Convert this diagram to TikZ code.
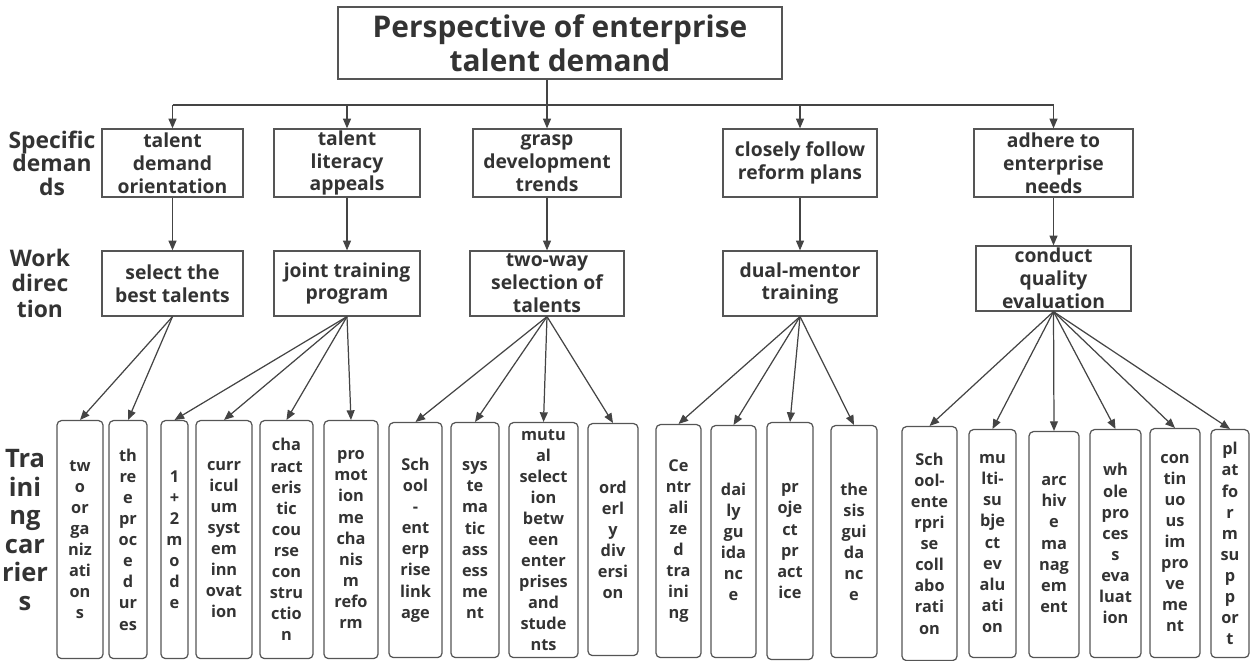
\documentclass[tikz,border=0pt]{standalone}
\usepackage{fontspec}
\setmainfont{Open Sans}
\usetikzlibrary{arrows.meta}

\definecolor{ink}{HTML}{333333}
\definecolor{linegray}{HTML}{444444}
\definecolor{boxgray}{HTML}{555555}

\tikzset{
  box/.style={draw=boxgray,line width=0.7pt,text=ink,align=center,inner sep=0pt,
              font=\bfseries\fontsize{11}{13}\selectfont},
  carrier/.style={box,rounded corners=2.5pt,anchor=north,
                  font=\bfseries\fontsize{9.3}{12}\selectfont},
  rowlabel/.style={text=ink,align=center,inner sep=0pt},
  arr/.style={draw=linegray,line width=0.7pt,-{Triangle[length=5.5pt,width=4.5pt]}}
}

\begin{document}
\begin{tikzpicture}[x=0.02cm,y=-0.02cm,every edge/.style=arr]
    \useasboundingbox (0,0) rectangle (1250,661);

    % top
    \node[box,minimum width=8.88cm,minimum height=1.44cm,
          font=\bfseries\fontsize{17}{19.5}\selectfont] (title) at (560,43)
          {Perspective of enterprise\\talent demand};

    % row labels
    \node[rowlabel,font=\bfseries\fontsize{13}{13.4}\selectfont] (labdemand) at (52,163) {Specific\\deman\\ds};
    \node[rowlabel,font=\bfseries\fontsize{13}{14.5}\selectfont] (labwork) at (40,283) {Work\\direc\\tion};
    \node[rowlabel,font=\bfseries\fontsize{14.5}{16.3}\selectfont] (labcarrier) at (25,530) {Tra\\ini\\ng\\car\\rier\\s};

    % specific demands
    \node[box,minimum width=2.82cm,minimum height=1.36cm] (sd1) at (172.5,163) {talent\\demand\\orientation};
    \node[box,minimum width=2.92cm,minimum height=1.36cm] (sd2) at (347,163) {talent\\literacy\\appeals};
    \node[box,minimum width=2.96cm,minimum height=1.36cm] (sd3) at (547,163) {grasp\\development\\trends};
    \node[box,minimum width=3.08cm,minimum height=1.36cm] (sd4) at (800,163) {closely follow\\reform plans};
    \node[box,minimum width=3.18cm,minimum height=1.36cm] (sd5) at (1053.5,163) {adhere to\\enterprise\\needs};

    % work direction
    \node[box,minimum width=2.82cm,minimum height=1.3cm] (wd1) at (172.5,283.5) {select the\\best talents};
    \node[box,minimum width=2.92cm,minimum height=1.3cm] (wd2) at (347,283.5) {joint training\\program};
    \node[box,minimum width=3.08cm,minimum height=1.3cm] (wd3) at (547,283.5) {two-way\\selection of\\talents};
    \node[box,minimum width=3.08cm,minimum height=1.3cm] (wd4) at (800,283.5) {dual-mentor\\training};
    \node[box,minimum width=3.1cm,minimum height=1.3cm] (wd5) at (1053.5,278.5) {conduct\\quality\\evaluation};

    % training carriers
    \node[carrier,minimum width=0.92cm,minimum height=4.76cm] (c1) at (80,420) {tw\\o\\or\\ga\\niz\\ati\\on\\s};
    \node[carrier,minimum width=0.76cm,minimum height=4.76cm] (c2) at (128,420) {th\\re\\e\\pr\\oc\\e\\d\\ur\\es};
    \node[carrier,minimum width=0.54cm,minimum height=4.76cm] (c3) at (174.5,420) {1\\+\\2\\m\\o\\d\\e};
    \node[carrier,minimum width=1.12cm,minimum height=4.76cm] (c4) at (224,420) {curr\\icul\\um\\syst\\em\\inn\\ovat\\ion};
    \node[carrier,minimum width=1.06cm,minimum height=4.76cm] (c5) at (286.5,420) {cha\\ract\\eris\\tic\\cou\\rse\\con\\stru\\ctio\\n};
    \node[carrier,minimum width=1.08cm,minimum height=4.76cm] (c6) at (351,420) {pro\\mot\\ion\\me\\cha\\nis\\m\\refo\\rm};
    \node[carrier,minimum width=1.06cm,minimum height=4.7cm] (c7) at (415.5,422) {Sch\\ool\\-\\ent\\erp\\rise\\link\\age};
    \node[carrier,minimum width=0.96cm,minimum height=4.7cm] (c8) at (475,422) {sys\\te\\ma\\tic\\ass\\ess\\me\\nt};
    \node[carrier,minimum width=1.38cm,minimum height=4.7cm] (c9) at (543.5,422) {mutu\\al\\select\\ion\\betw\\een\\enter\\prises\\and\\stude\\nts};
    \node[carrier,minimum width=1.0cm,minimum height=4.64cm] (c10) at (613,423) {ord\\erl\\y\\div\\ersi\\on};
    \node[carrier,minimum width=0.9cm,minimum height=4.66cm] (c11) at (678.5,424) {Ce\\ntr\\ali\\ze\\d\\tra\\ini\\ng};
    \node[carrier,minimum width=0.9cm,minimum height=4.64cm] (c12) at (733.5,425) {dai\\ly\\gu\\ida\\nc\\e};
    \node[carrier,minimum width=0.92cm,minimum height=4.74cm] (c13) at (790,422) {pr\\oje\\ct\\pr\\act\\ice};
    \node[carrier,minimum width=0.92cm,minimum height=4.64cm] (c14) at (854,425) {the\\sis\\gui\\da\\nc\\e};
    \node[carrier,minimum width=1.1cm,minimum height=4.68cm] (c15) at (929.5,426) {Sch\\ool-\\ente\\rpri\\se\\coll\\abo\\rati\\on};
    \node[carrier,minimum width=0.94cm,minimum height=4.56cm] (c16) at (992.5,429) {mu\\lti-\\su\\bje\\ct\\ev\\alu\\ati\\on};
    \node[carrier,minimum width=1.0cm,minimum height=4.52cm] (c17) at (1054,431) {arc\\hiv\\e\\ma\\nag\\em\\ent};
    \node[carrier,minimum width=1.02cm,minimum height=4.56cm] (c18) at (1115.5,429) {wh\\ole\\pro\\ces\\s\\eva\\luat\\ion};
    \node[carrier,minimum width=1.0cm,minimum height=4.58cm] (c19) at (1175,428) {con\\tin\\uo\\us\\im\\pro\\ve\\me\\nt};
    \node[carrier,minimum width=0.76cm,minimum height=4.56cm] (c20) at (1230,429) {pl\\at\\fo\\r\\m\\su\\p\\p\\or\\t};

    % bus from the top box
    \coordinate (bus) at (547,105);
    \draw[linegray,line width=0.7pt] (title.south -| bus) -- (bus);
    \draw[linegray,line width=0.7pt] (sd1.north |- bus) -- (sd5.north |- bus);
    \path (sd1.north |- bus) edge (sd1.north)
          (sd2.north |- bus) edge (sd2.north)
          (sd3.north |- bus) edge (sd3.north)
          (sd4.north |- bus) edge (sd4.north)
          (sd5.north |- bus) edge (sd5.north);

    \path (sd1) edge (wd1)
          (sd2) edge (wd2)
          (sd3) edge (wd3)
          (sd4) edge (wd4)
          (sd5) edge (wd5);

    \path (wd1.south) edge (c1.north) edge (c2.north);
    \path (wd2.south) edge (c3.north) edge (c4.north) edge (c5.north) edge (c6.north);
    \path (wd3.south) edge (c7.north) edge (c8.north) edge (c9.north) edge (c10.north);
    \path (wd4.south) edge (c11.north) edge (c12.north) edge (c13.north) edge (c14.north);
    \path (wd5.south) edge (c15.north) edge (c16.north) edge (c17.north)
                      edge (c18.north) edge (c19.north) edge (c20.north);
\end{tikzpicture}
\end{document}
